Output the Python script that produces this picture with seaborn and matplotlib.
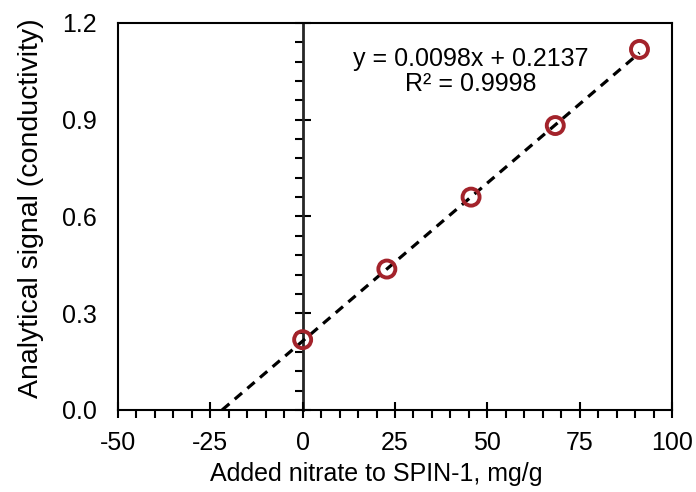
import seaborn as sns
import matplotlib.pyplot as plt
import numpy as np
import pandas as pd
from matplotlib.ticker import MultipleLocator

# pontos (adicao padrao)
added = [0, 22.8, 45.6, 68.4, 91.2]
signal = [0.218, 0.437, 0.660, 0.882, 1.118]
slope = 0.0098
intercept = 0.2137
eq_text = "y = 0.0098x + 0.2137\nR² = 0.9998"

df = pd.DataFrame({'added': added, 'signal': signal})

sns.set_style("white")
plt.rcParams['font.family'] = ['Liberation Sans', 'DejaVu Sans']
plt.rcParams['axes.unicode_minus'] = False
plt.rcParams['text.color'] = 'black'
plt.rcParams['axes.labelcolor'] = 'black'
plt.rcParams['xtick.color'] = 'black'
plt.rcParams['ytick.color'] = 'black'

fig = plt.figure(figsize=(6.96, 4.92), dpi=100)
ax = fig.add_axes([0.1695, 0.1667, 0.796, 0.7866])

# reta de ajuste extrapolada ate y = 0
x_fit = np.array([-intercept / slope, max(added)])
fit = pd.DataFrame({'x': x_fit, 'y': slope * x_fit + intercept})
sns.lineplot(data=fit, x='x', y='y', ax=ax, color='black', linestyle=(0, (3.0, 2.2)),
             linewidth=2.3, zorder=2)

sns.scatterplot(data=df, x='added', y='signal', ax=ax, marker='o', s=150,
                facecolor='none', edgecolor='#A3232B', linewidth=2.8, zorder=3)

ax.set_xlim(-50, 100)
ax.set_ylim(0, 1.2)
ax.xaxis.set_major_locator(MultipleLocator(25))
ax.xaxis.set_minor_locator(MultipleLocator(5))
ax.yaxis.set_major_locator(MultipleLocator(0.3))
ax.yaxis.set_minor_locator(MultipleLocator(0.06))
ax.yaxis.set_major_formatter(plt.FormatStrFormatter('%.1f'))

for s in ax.spines.values():
    s.set_visible(True)
    s.set_color('black')
    s.set_linewidth(1.5)

ax.tick_params(axis='x', which='major', direction='inout', length=12, width=1.5,
               labelsize=18, pad=9, bottom=True)
ax.tick_params(axis='x', which='minor', direction='out', length=6, width=1.5,
               bottom=True)
# rotulos do eixo y na borda esquerda, marcas no x = 0
ax.tick_params(axis='y', which='both', length=0, labelsize=18, pad=15, left=True)

sec = ax.secondary_yaxis(1 / 3)
sec.yaxis.set_major_locator(MultipleLocator(0.3))
sec.yaxis.set_minor_locator(MultipleLocator(0.06))
sec.spines['left'].set_linewidth(2)
sec.tick_params(axis='y', which='major', direction='inout', length=12, width=1.5,
                labelleft=False, left=True)
sec.tick_params(axis='y', which='minor', direction='out', length=6, width=1.5,
                left=True)
sec.set_yticklabels([])

ax.text(45.6, 1.05, eq_text, ha='center', va='center', fontsize=18,
        multialignment='center', linespacing=1.05)

ax.set_xlabel("Added nitrate to SPIN-1, mg/g", fontsize=18, labelpad=5)
ax.set_ylabel("Analytical signal (conductivity)", fontsize=20.5, labelpad=13)
ax.xaxis.label.set_x(0.467)
ax.yaxis.label.set_y(0.522)

fig.savefig("out.png", dpi=100)
